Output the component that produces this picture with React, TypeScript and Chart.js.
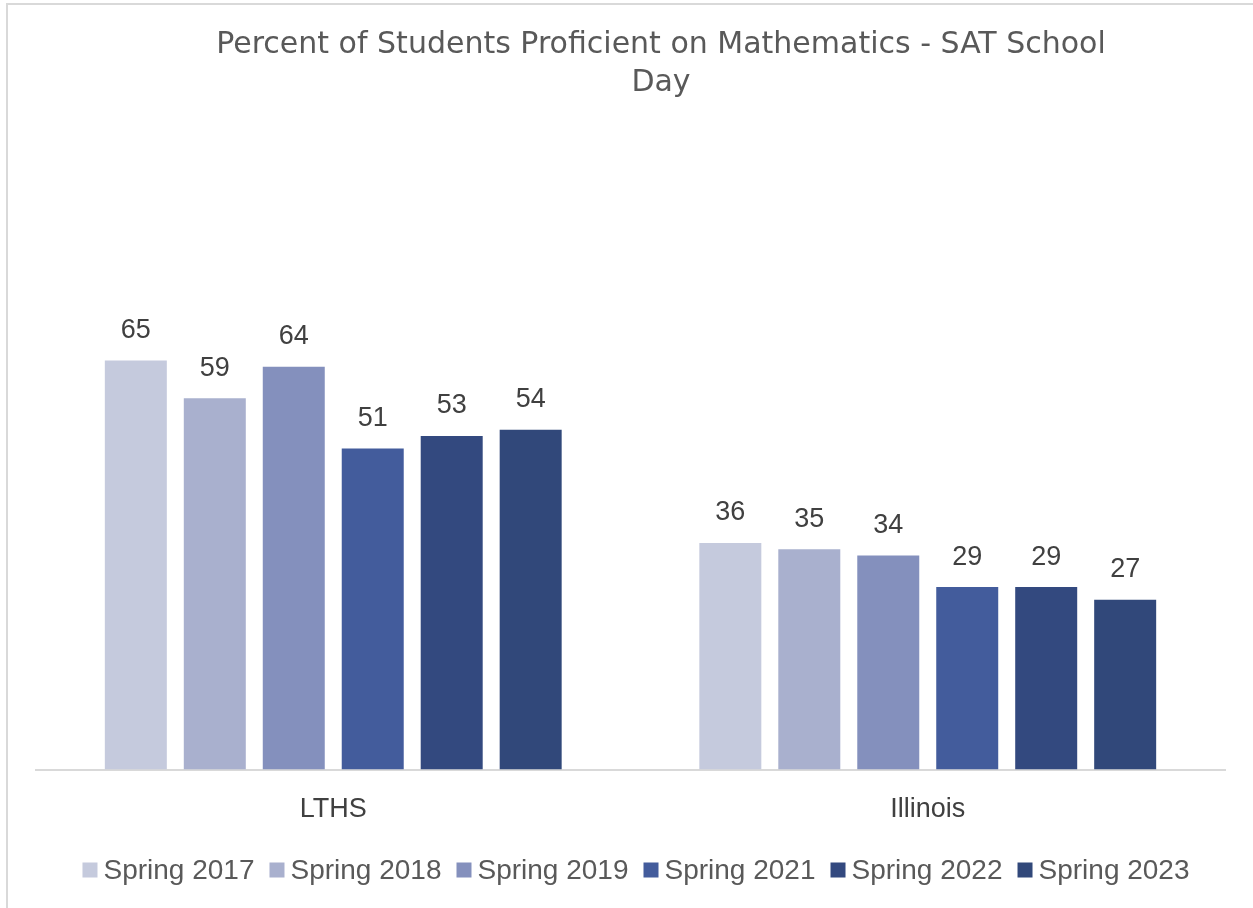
import React, { useEffect, useRef } from "react";
import { Chart, registerables } from "chart.js";

Chart.register(...registerables);

const categories = ["LTHS", "Illinois"];
const seriesNames = ["Spring 2017", "Spring 2018", "Spring 2019", "Spring 2021", "Spring 2022", "Spring 2023"];
const spring2017 = [65, 36];
const spring2018 = [59, 35];
const spring2019 = [64, 34];
const spring2021 = [51, 29];
const spring2022 = [53, 29];
const spring2023 = [54, 27];
const seriesValues = [spring2017, spring2018, spring2019, spring2021, spring2022, spring2023];
const seriesColors = ["#C5CADD", "#A9B0CE", "#8490BD", "#435C9C", "#33497F", "#31487A"];
const titleLines = ["Percent of Students Proficient on Mathematics - SAT School", "Day"];

const FONT = "'Liberation Sans', Arial, sans-serif";
const TITLE_FONT = "'DejaVu Sans', sans-serif";

const customPlugin = {
  id: "customDraw",
  afterDraw(chart: any) {
    const ctx = chart.ctx;
    ctx.save();
    // title
    ctx.fillStyle = "#595959";
    ctx.font = `30px ${TITLE_FONT}`;
    ctx.textAlign = "center";
    ctx.textBaseline = "middle";
    ctx.fillText(titleLines[0], 661, 45);
    ctx.fillText(titleLines[1], 661, 83);

    // data labels
    ctx.fillStyle = "#404040";
    ctx.font = `27px ${FONT}`;
    chart.data.datasets.forEach((ds: any, i: number) => {
      const meta = chart.getDatasetMeta(i);
      meta.data.forEach((el: any, j: number) => {
        ctx.fillText(String(ds.data[j]), el.x, el.y - 30);
      });
    });

    // legend
    ctx.font = `28px ${FONT}`;
    ctx.textAlign = "left";
    const box = 15;
    const gap = 6;
    const itemGap = 15;
    const widths = chart.data.datasets.map((ds: any) => box + gap + ctx.measureText(ds.label).width);
    const total = widths.reduce((a: number, b: number) => a + b, 0) + itemGap * (widths.length - 1);
    let x = 636 - total / 2;
    const cy = 870;
    chart.data.datasets.forEach((ds: any, i: number) => {
      ctx.fillStyle = ds.backgroundColor;
      ctx.fillRect(x, cy - box / 2, box, box);
      ctx.fillStyle = "#595959";
      ctx.fillText(ds.label, x + box + gap, cy + 1);
      x += widths[i] + itemGap;
    });
    ctx.restore();
  },
};

export default function App() {
  const ref = useRef<HTMLCanvasElement>(null);
  useEffect(() => {
    if (!ref.current) return;
    const chart = new Chart(ref.current, {
      type: "bar",
      data: {
        labels: categories,
        datasets: seriesNames.map((name, i) => ({
          label: name,
          data: seriesValues[i],
          backgroundColor: seriesColors[i],
          borderWidth: 0,
          barPercentage: 0.785,
          categoryPercentage: 0.797,
        })),
      },
      options: {
        responsive: false,
        animation: false,
        layout: { padding: { left: 36, right: 28, top: 329, bottom: 58 } },
        plugins: {
          legend: { display: false },
          title: { display: false },
          tooltip: { enabled: false },
        },
        scales: {
          x: {
            grid: { display: false, drawTicks: false },
            border: { display: true, color: "#D9D9D9", width: 2 },
            ticks: { color: "#404040", font: { family: FONT, size: 27 }, padding: 24 },
          },
          y: {
            display: false,
            min: 0,
            max: 70,
          },
        },
      },
      plugins: [customPlugin],
    });
    return () => chart.destroy();
  }, []);
  return (
    <div style={{ position: "fixed", left: 0, top: 0, width: 1253, height: 908, overflow: "hidden", background: "#fff" }}>
      <div style={{ position: "absolute", left: 6, top: 3, width: 1400, height: 1100, border: "2px solid #D9D9D9" }} />
      <canvas ref={ref} width={1253} height={908} style={{ position: "absolute", left: 0, top: 0 }} />
    </div>
  );
}
